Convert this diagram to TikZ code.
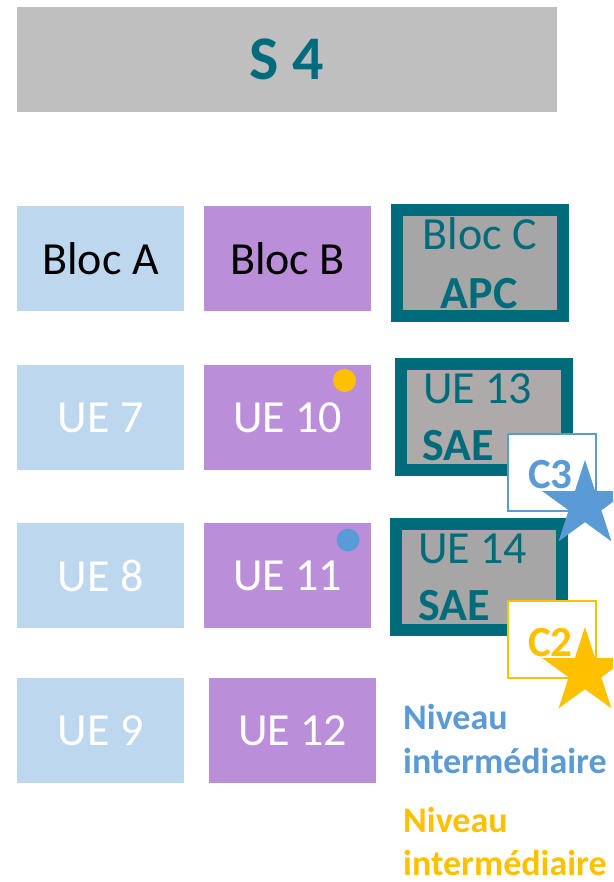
\documentclass[tikz,border=0pt]{standalone}
\usepackage{fontspec}
\setmainfont{Carlito}
\usetikzlibrary{shapes.geometric}
\definecolor{headgray}{HTML}{BFBFBF}
\definecolor{petrol}{HTML}{006B7B}
\definecolor{paleblue}{HTML}{BDD7EE}
\definecolor{lilac}{HTML}{BB8EDA}
\definecolor{saegray}{HTML}{A6A6A6}
\definecolor{saegrayb}{HTML}{AEAAAA}
\definecolor{lvlblue}{HTML}{5B9BD5}
\definecolor{lvlyellow}{HTML}{FFC000}

\begin{document}
\begin{tikzpicture}[x=1pt,y=-1pt,
        box/.style={minimum width=167pt, minimum height=105pt, inner sep=0pt,
                    font=\fontsize{46}{56}\selectfont},
        uebleu/.style={box, fill=paleblue, text=white},
        uemauve/.style={box, fill=lilac, text=white},
        saebox/.style={draw=petrol, line width=12pt, minimum width=166pt,
                       minimum height=106pt, inner sep=0pt},
        saetext/.style={text=petrol, inner sep=0pt, font=\fontsize{46}{56}\selectfont},
        compbox/.style={line width=1.5pt, fill=white, minimum width=88pt,
                        minimum height=77pt, inner sep=0pt},
        comptext/.style={inner sep=0pt, anchor=base west, font=\fontsize{43}{50}\bfseries},
        compstar/.style={star, star points=5, star point ratio=2.618,
                         minimum size=90pt, inner sep=0pt},
        niveau/.style={inner sep=0pt, anchor=base west, font=\fontsize{36}{44}\bfseries}]
        \useasboundingbox (0,0) rectangle (613,882);
        \clip (0,0) rectangle (613,882);
        % titre
        \node[fill=headgray, minimum width=540pt, minimum height=105pt, text=petrol,
              font=\fontsize{62}{70}\bfseries] (s4) at (287,59.5) {S 4};
        % blocs
        \node[box, fill=paleblue] (blocA) at (100.5,258.5) {Bloc A};
        \node[box, fill=lilac] (blocB) at (287.5,258.5) {Bloc B};
        \node[saebox, fill=saegray] (blocC) at (480,263) {};
        \node[saetext, anchor=base] (blocCt) at (480,250) {Bloc C};
        \node[saetext, anchor=base, font=\fontsize{46}{56}\bfseries] (apc) at (479,308) {APC};
        % UE
        \node[uebleu] (ue7) at (100.5,417.5) {UE 7};
        \node[uebleu] (ue8) at (100.5,575.5) {UE 8};
        \node[uebleu] (ue9) at (100.5,730.5) {UE 9};
        \node[uemauve] (ue10) at (287.5,417.5) {UE 10};
        \node[uemauve] (ue11) at (287.5,575.5) {UE 11};
        \node[uemauve] (ue12) at (292.5,730.5) {UE 12};
        \fill[lvlyellow] (344.5,380.5) circle (11.5pt);
        \fill[lvlblue] (348,540) circle (11.5pt);
        % SAE
        \node[saebox, fill=saegrayb] (ue13) at (484,416.5) {};
        \node[saetext, anchor=base west] (ue13t) at (423,403) {UE 13};
        \node[saetext, anchor=base west, font=\fontsize{46}{56}\bfseries] (sae13) at (422,460) {SAE};
        \node[saebox, fill=saegray] (ue14) at (479,576.5) {};
        \node[saetext, anchor=base west] (ue14t) at (418,563) {UE 14};
        \node[saetext, anchor=base west, font=\fontsize{46}{56}\bfseries] (sae14) at (418,620) {SAE};
        % competences
        \node[compbox, draw=lvlblue] (c3box) at (552,472.5) {};
        \node[comptext, text=lvlblue] (c3) at (528,488) {C3};
        \node[compstar, fill=lvlblue] (c3star) at (585,505) {};
        \node[compbox, draw=lvlyellow] (c2box) at (552,639.5) {};
        \node[comptext, text=lvlyellow] (c2) at (528,656) {C2};
        \node[compstar, fill=lvlyellow] (c2star) at (585,672) {};
        % legende
        \node[niveau, text=lvlblue] (niv3a) at (403,729) {Niveau};
        \node[niveau, text=lvlblue] (niv3b) at (403,773) {intermédiaire};
        \node[niveau, text=lvlyellow] (niv2a) at (403,832) {Niveau};
        \node[niveau, text=lvlyellow] (niv2b) at (403,875) {intermédiaire};
\end{tikzpicture}
\end{document}
